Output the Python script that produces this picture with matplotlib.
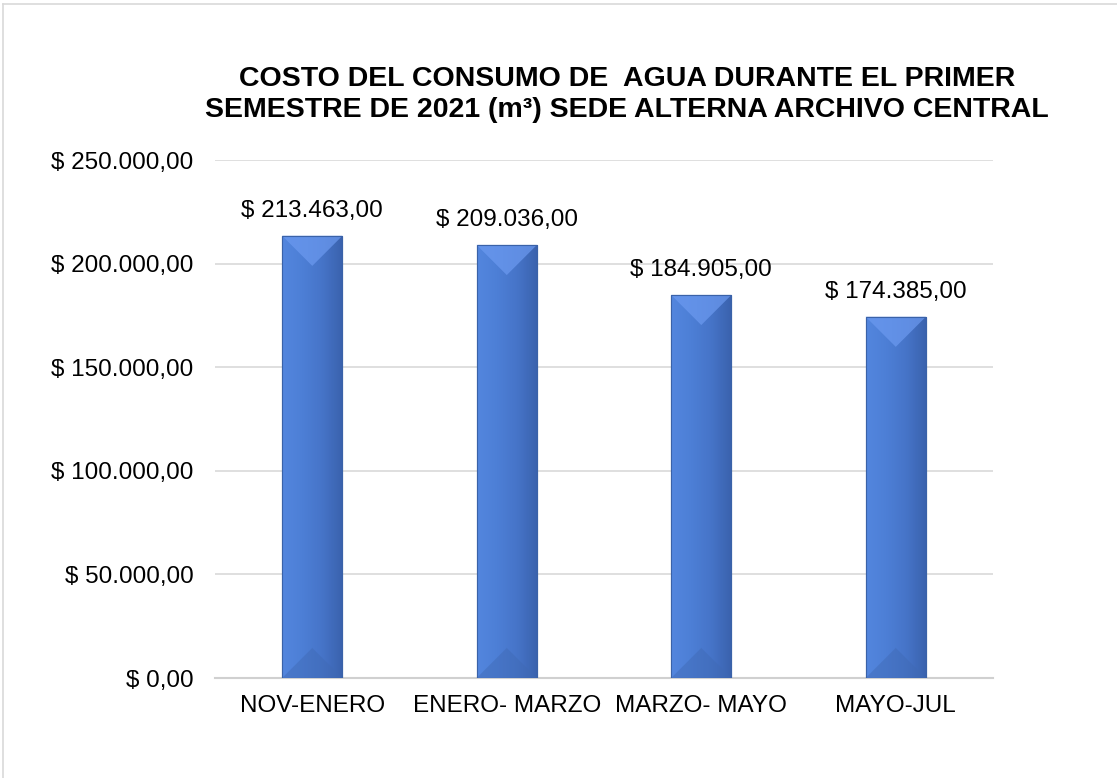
import numpy as np
import matplotlib.pyplot as plt
from matplotlib.patches import Polygon, Rectangle
from matplotlib.lines import Line2D
from matplotlib.ticker import FuncFormatter
from matplotlib.colors import LinearSegmentedColormap

plt.rcParams['font.family'] = ['Liberation Sans', 'DejaVu Sans']

# datos
periodos = ['NOV-ENERO', 'ENERO- MARZO', 'MARZO- MAYO', 'MAYO-JUL']
costos = [213463, 209036, 184905, 174385]
titulo = 'COSTO DEL CONSUMO DE  AGUA DURANTE EL PRIMER\nSEMESTRE DE 2021 (m³) SEDE ALTERNA ARCHIVO CENTRAL'


def pesos(v, pos=None):
    s = f'{v:,.2f}'.replace(',', 'X').replace('.', ',').replace('X', '.')
    return '$ ' + s


fig = plt.figure(figsize=(11.17, 7.78), dpi=100)
ax = fig.add_axes([0.1925, 0.1285, 0.6965, 0.6658])

x = np.arange(len(periodos))
ancho = 0.31
barras = ax.bar(x, costos, width=ancho, color='#4a7bd0', edgecolor='#3a62a8',
                linewidth=0.8, zorder=3)

ax.set_xlim(-0.5, len(periodos) - 0.5)
ax.set_ylim(0, 250000)
ax.set_yticks(np.arange(0, 250001, 50000))
ax.yaxis.set_major_formatter(FuncFormatter(pesos))
ax.set_xticks(x)
ax.set_xticklabels(periodos)
ax.tick_params(axis='both', length=0, labelsize=17.5, colors='#000000')
ax.tick_params(axis='x', pad=12)
ax.tick_params(axis='y', pad=15.5)
ax.grid(axis='y', color='#d9d9d9', linewidth=1.2, zorder=0)
for lado in ['top', 'right', 'left']:
    ax.spines[lado].set_visible(False)
ax.spines['bottom'].set_color('#d0d0d0')
ax.spines['bottom'].set_linewidth(1.5)

# degradado y biseles de cada barra
cmap = LinearSegmentedColormap.from_list('azul', ['#5386de', '#4d7fd6', '#4674c8', '#3a62ad'])
grad = np.linspace(0, 1, 100).reshape(1, -1)
fig.canvas.draw()
px_por_y = ax.transData.transform((0, 1))[1] - ax.transData.transform((0, 0))[1]
px_por_x = ax.transData.transform((1, 0))[0] - ax.transData.transform((0, 0))[0]
for b in barras:
    x0, w, h = b.get_x(), b.get_width(), b.get_height()
    im = ax.imshow(grad, cmap=cmap, aspect='auto', extent=[x0, x0 + w, 0, h], zorder=3.1)
    im.set_clip_path(b)
    prof = (w / 2) * px_por_x / px_por_y
    ax.add_patch(Polygon([[x0, h], [x0 + w, h], [x0 + w / 2, h - prof]],
                         closed=True, facecolor='#6c9af0', alpha=0.7, lw=0, zorder=3.2))
    ax.add_patch(Polygon([[x0, 0], [x0 + w, 0], [x0 + w / 2, prof]],
                         closed=True, facecolor='#3f69b4', alpha=0.45, lw=0, zorder=3.2))
    ax.add_patch(Rectangle((x0, 0), w, h, fill=False, edgecolor='#3a62a8', lw=0.8, zorder=3.3))
    ax.annotate(pesos(h), (x0 + w / 2, h), xytext=(0, 10), textcoords='offset points',
                ha='center', va='bottom', fontsize=17.5, color='#000000')

ax.set_xlim(-0.5, len(periodos) - 0.5)
ax.set_ylim(0, 250000)

fig.text(0.561, 0.879, titulo, ha='center', va='center', fontsize=20.5,
         fontweight='bold', linespacing=1.26)

# borde del área del gráfico (solo arriba e izquierda visibles)
fig.lines.append(Line2D([0.003, 1.0], [0.995, 0.995], transform=fig.transFigure,
                        color='#d9d9d9', lw=1.2))
fig.lines.append(Line2D([0.003, 0.003], [0.0, 0.995], transform=fig.transFigure,
                        color='#d9d9d9', lw=1.2))

plt.savefig('out.png', dpi=100)
